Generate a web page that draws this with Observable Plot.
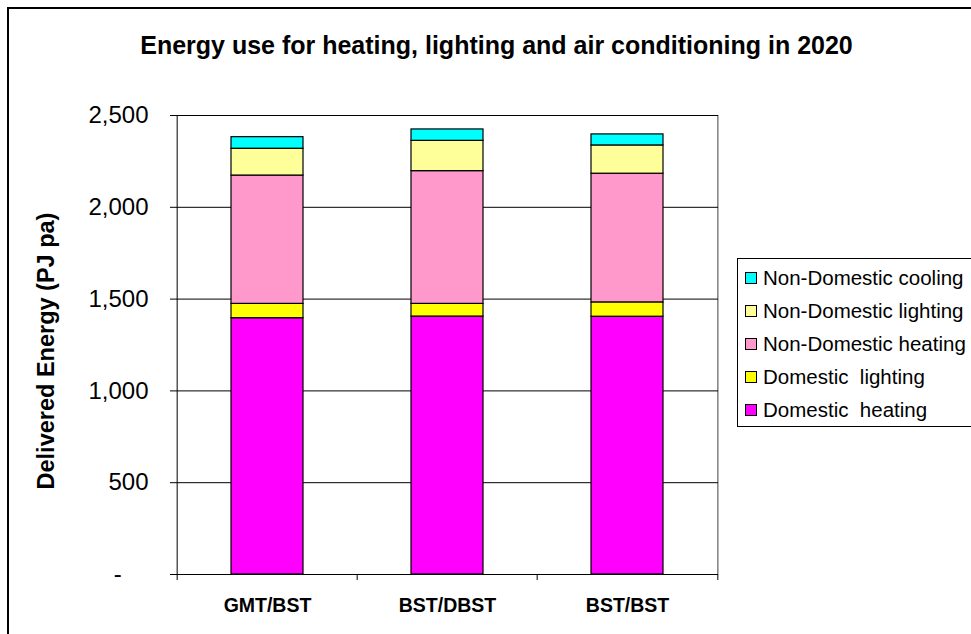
<!DOCTYPE html>
<html>
<head>
<meta charset="utf-8">
<script src="https://cdn.jsdelivr.net/npm/d3@7"></script>
<script src="https://cdn.jsdelivr.net/npm/@observablehq/plot@0.6"></script>
<style>
  html, body { margin: 0; padding: 0; background: #fff; overflow: hidden; }
  #wrap { position: relative; width: 971px; height: 634px; font-family: "Liberation Sans", Arial, sans-serif; color: #000; }
  #frame { position: absolute; left: 7px; top: 7px; width: 1100px; height: 800px; border: 2px solid #000; pointer-events: none; z-index: 5; }
  #title { position: absolute; left: 0; top: 0; width: 993px; height: 90px; line-height: 90px; text-align: center; font-weight: bold; font-size: 25px; white-space: nowrap; }
  #chart { position: absolute; left: 0; top: 90px; }
  #ytitle { position: absolute; left: 46px; top: 351px; transform: translate(-50%, -50%) rotate(-90deg); font-weight: bold; font-size: 23.5px; white-space: nowrap; }
  #legend { position: absolute; left: 737px; top: 258px; width: 250px; height: 169px; border: 1px solid #000; background: #fff; box-sizing: border-box; padding-top: 2px; }
  .item { height: 33px; display: flex; align-items: center; font-size: 20.5px; white-space: pre; }
  .sw { width: 10px; height: 10px; border: 1px solid #000; margin-left: 7px; margin-right: 6px; flex: none; }
</style>
</head>
<body>
<div id="wrap">
  <div id="title"></div>
  <div id="chart"></div>
  <div id="ytitle"></div>
  <div id="legend"></div>
  <div id="frame"></div>
</div>
<script>
const titleText = "Energy use for heating, lighting and air conditioning in 2020";
const yTitle = "Delivered Energy (PJ pa)";
const categories = ["GMT/BST", "BST/DBST", "BST/BST"];
const series = ["Domestic  heating", "Domestic  lighting", "Non-Domestic heating", "Non-Domestic lighting", "Non-Domestic cooling"];
const colors = ["#FF00FF", "#FFFF00", "#FF99CC", "#FFFF99", "#00FFFF"];
const domesticHeating = [1396, 1405, 1404];
const domesticLighting = [78, 69, 78];
const nonDomesticHeating = [699, 723, 701];
const nonDomesticLighting = [146, 165, 154];
const nonDomesticCooling = [63, 62, 60];
const yTicks = [0, 500, 1000, 1500, 2000, 2500];

const values = [domesticHeating, domesticLighting, nonDomesticHeating, nonDomesticLighting, nonDomesticCooling];
const data = [];
series.forEach((s, si) => categories.forEach((c, ci) => data.push({category: c, series: s, value: values[si][ci]})));

document.getElementById("title").textContent = titleText;
document.getElementById("ytitle").textContent = yTitle;

const W = 971, H = 544, mL = 176, mR = 253, mT = 25, mB = 60;
const step = (W - mL - mR) / categories.length;
const fmt = d3.format(",");

const chart = Plot.plot({
  width: W,
  height: H,
  marginLeft: mL,
  marginRight: mR,
  marginTop: mT,
  marginBottom: mB,
  style: {background: "transparent", fontFamily: "'Liberation Sans', Arial, sans-serif", color: "#000"},
  x: {domain: categories, paddingInner: 0.6, paddingOuter: 0.3, label: null},
  y: {domain: [0, 2500], label: null},
  color: {domain: series, range: colors},
  marks: [
    Plot.ruleX(categories.slice(-1), {x: d => d, dx: step / 2, stroke: "#808080", strokeWidth: 1.5}),
    Plot.ruleY(yTicks, {stroke: "#000", strokeWidth: 1}),
    Plot.barY(data, {x: "category", y: "value", fill: "series", stroke: "#000", strokeWidth: 1.2}),
    Plot.ruleX(categories.slice(0, 1), {x: d => d, dx: -step / 2, stroke: "#000", strokeWidth: 1}),
    Plot.ruleX(categories, {x: d => d, dx: -step / 2, y1: 0, y2: 0, insetBottom: -6, stroke: "#000"}),
    Plot.ruleX(categories.slice(-1), {x: d => d, dx: step / 2, y1: 0, y2: 0, insetBottom: -6, stroke: "#000"}),
    Plot.axisY({ticks: yTicks, tickSize: 6, tickPadding: 22, fontSize: 24, label: null,
      tickFormat: d => d === 0 ? "-\u00a0\u00a0\u00a0\u00a0" : fmt(d)}),
    Plot.axisX({tickSize: 0, tickPadding: 24, fontSize: 19.5, fontWeight: "bold", label: null})
  ]
});
document.getElementById("chart").appendChild(chart);

const legend = document.getElementById("legend");
series.slice().reverse().forEach((s) => {
  const i = series.indexOf(s);
  const row = document.createElement("div");
  row.className = "item";
  const sw = document.createElement("span");
  sw.className = "sw";
  sw.style.background = colors[i];
  const tx = document.createElement("span");
  tx.textContent = s;
  row.appendChild(sw);
  row.appendChild(tx);
  legend.appendChild(row);
});
</script>
</body>
</html>
